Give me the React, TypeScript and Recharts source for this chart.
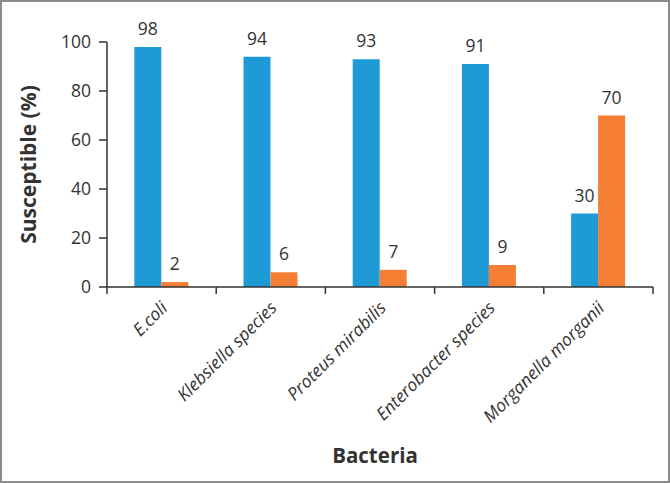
import React from 'react';
import { BarChart, Bar, XAxis, YAxis, LabelList, Label } from 'recharts';

const bacteria = ['E.coli', 'Klebsiella species', 'Proteus mirabilis', 'Enterobacter species', 'Morganella morganii'];
const susceptible = [98, 94, 93, 91, 30];
const resistant = [2, 6, 7, 9, 70];
const yTicks = [0, 20, 40, 60, 80, 100];

const data = bacteria.map((name, i) => ({ name, susceptible: susceptible[i], resistant: resistant[i] }));

const FONT = '"Open Sans", sans-serif';
const INK = '#333333';

function BacteriaTick(props: any) {
  const { x, y, payload, index } = props;
  const half = payload && payload.offset ? payload.offset : 54.6;
  const axisY = y - 7;
  return (
    <g>
      <line x1={x - half} x2={x - half} y1={axisY} y2={axisY + 7} stroke={INK} strokeWidth={1.5} />
      {index === bacteria.length - 1 && (
        <line x1={x + half} x2={x + half} y1={axisY} y2={axisY + 7} stroke={INK} strokeWidth={1.5} />
      )}
      <text
        x={x + 7}
        y={y + 15}
        textAnchor="end"
        transform={`rotate(-45, ${x + 7}, ${y + 15})`}
        fontFamily={FONT}
        fontStyle="italic"
        fontSize={17.5}
        fill={INK}
      >
        {payload.value}
      </text>
    </g>
  );
}

export default function App() {
  return (
    <div
      style={{
        position: 'absolute',
        left: 0,
        top: 0,
        width: 670,
        height: 483,
        boxSizing: 'border-box',
        border: '2px solid #8c8c8c',
        background: '#fff',
      }}
    >
      <div style={{ position: 'absolute', left: -2, top: -2 }}>
        <BarChart
          width={670}
          height={483}
          data={data}
          margin={{ top: 42, right: 17, left: 47, bottom: 0 }}
          barCategoryGap="25%"
          barGap={0}
        >
          <XAxis
            dataKey="name"
            height={196}
            interval={0}
            tickLine={false}
            tickSize={7}
            tickMargin={0}
            axisLine={{ stroke: INK, strokeWidth: 1.5 }}
            tick={<BacteriaTick />}
          >
            <Label
              content={(p: any) => {
                const vb = p.viewBox || { x: 107, y: 287, width: 546, height: 196 };
                return (
                  <text
                    x={vb.x + vb.width / 2 - 5}
                    y={vb.y + 176}
                    textAnchor="middle"
                    fontFamily={FONT}
                    fontWeight="bold"
                    fontSize={20.5}
                    fill={INK}
                  >
                    Bacteria
                  </text>
                );
              }}
            />
          </XAxis>
          <YAxis
            width={60}
            domain={[0, 100]}
            ticks={yTicks}
            interval={0}
            tickSize={8}
            tickMargin={8}
            tickLine={{ stroke: INK, strokeWidth: 1.5 }}
            axisLine={{ stroke: INK, strokeWidth: 1.5 }}
            tick={{ fontFamily: FONT, fontSize: 17.5, fill: INK }}
          >
            <Label
              content={(p: any) => {
                const vb = p.viewBox || { x: 47, y: 42, width: 60, height: 245 };
                const cx = 36;
                const cy = vb.y + vb.height / 2;
                return (
                  <text
                    x={cx}
                    y={cy}
                    textAnchor="middle"
                    transform={`rotate(-90, ${cx}, ${cy})`}
                    fontFamily={FONT}
                    fontWeight="bold"
                    fontSize={21}
                    fill={INK}
                  >
                    Susceptible (%)
                  </text>
                );
              }}
            />
          </YAxis>
          <Bar dataKey="susceptible" fill="#1E9BD7" isAnimationActive={false}>
            <LabelList dataKey="susceptible" position="top" offset={12} fontFamily={FONT} fontSize={17.5} fill={INK} />
          </Bar>
          <Bar dataKey="resistant" fill="#F47E33" isAnimationActive={false}>
            <LabelList dataKey="resistant" position="top" offset={12} fontFamily={FONT} fontSize={17.5} fill={INK} />
          </Bar>
        </BarChart>
      </div>
    </div>
  );
}
